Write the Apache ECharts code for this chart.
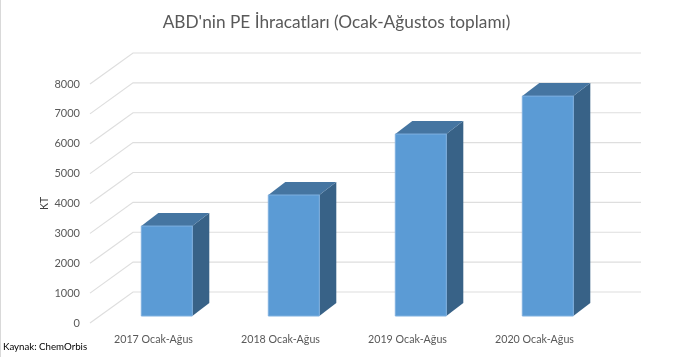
<!DOCTYPE html>
<html>
<head>
<meta charset="utf-8">
<style>
  html, body { margin: 0; padding: 0; background: #fff; }
  #chart { width: 675px; height: 357px; }
</style>
<script src="https://cdn.jsdelivr.net/npm/echarts@6/dist/echarts.min.js"></script>
</head>
<body>
<div id="chart"></div>
<script>
const titleText = "ABD'nin PE İhracatları (Ocak-Ağustos toplamı)";
const sourceText = 'Kaynak: ChemOrbis';
const yName = 'KT';
const categories = ['2017 Ocak-Ağus', '2018 Ocak-Ağus', '2019 Ocak-Ağus', '2020 Ocak-Ağus'];
const exports_kt = [3010, 4050, 6090, 7360];
const yTicks = [0, 1000, 2000, 3000, 4000, 5000, 6000, 7000, 8000];

// fake 3d: how far the back wall and the bars sit from the front plane
const wallDx = 43, wallDy = -31;
const barDx = 13.3, barDy = -7, barDepthX = 17, barDepthY = -13, barWidth = 51;

const chart = echarts.init(document.getElementById('chart'));

const renderWall = (params, api) => {
  const sys = params.coordSys;
  const y = api.coord([0, api.value(1)])[1];
  return {
    type: 'polyline',
    silent: true,
    shape: { points: [[sys.x, y], [sys.x + wallDx, y + wallDy], [sys.x + sys.width + wallDx, y + wallDy]] },
    style: { fill: null, stroke: '#dedede', lineWidth: 1.2 },
  };
};

const renderBar = (params, api) => {
  const top = api.coord([api.value(0), api.value(1)]);
  const base = api.coord([api.value(0), 0]);
  const x0 = top[0] + barDx - barWidth / 2;
  const x1 = x0 + barWidth;
  const y0 = top[1] + barDy;
  const y1 = base[1] + barDy;
  return {
    type: 'group',
    children: [
      {
        type: 'polygon',
        shape: { points: [[x1, y0], [x1 + barDepthX, y0 + barDepthY], [x1 + barDepthX, y1 + barDepthY], [x1, y1]] },
        style: { fill: '#386287' },
      },
      {
        type: 'polygon',
        shape: { points: [[x0, y0], [x0 + barDepthX, y0 + barDepthY], [x1 + barDepthX, y0 + barDepthY], [x1, y0]] },
        style: { fill: '#4575a1' },
      },
      {
        type: 'rect',
        shape: { x: x0, y: y0, width: barWidth, height: y1 - y0 },
        style: { fill: '#5b9bd5', stroke: '#7fb0df', lineWidth: 1 },
      },
    ],
  };
};

chart.setOption({
  animation: false,
  backgroundColor: '#fff',
  title: [
    {
      text: titleText,
      left: 331.5,
      top: 9,
      textAlign: 'center',
      textStyle: { fontFamily: 'Lato', fontSize: 17.25, fontWeight: 'normal', color: '#595959' },
    },
    {
      text: sourceText,
      left: 3,
      top: 342,
      padding: 0,
      textStyle: { fontFamily: 'Lato', fontSize: 9.7, fontWeight: 'normal', color: '#000' },
    },
  ],
  // thin grey edge of the screenshot on the left
  graphic: [
    { type: 'rect', shape: { x: 0, y: 0, width: 1, height: 357 }, style: { fill: '#d9d9d9' }, silent: true },
  ],
  grid: { left: 90, top: 84, width: 508, height: 239 },
  xAxis: {
    type: 'category',
    data: categories,
    axisLine: { show: false },
    axisTick: { show: false },
    axisLabel: { margin: 11, fontFamily: 'Lato', fontSize: 10.7, color: '#595959' },
  },
  yAxis: {
    type: 'value',
    min: 0,
    max: 8000,
    interval: 1000,
    name: yName,
    nameLocation: 'middle',
    nameGap: 40,
    nameMoveOverlap: false,
    nameTextStyle: { fontFamily: 'Lato', fontSize: 10.5, color: '#404040' },
    axisLine: { show: false },
    axisTick: { show: false },
    splitLine: { show: false },
    axisLabel: {
      margin: 10,
      padding: [5, 0, 0, 0],
      fontFamily: 'Lato',
      fontSize: 11,
      color: '#595959',
      formatter: (v) => String(v),
    },
  },
  series: [
    {
      type: 'custom',
      renderItem: renderWall,
      clip: false,
      silent: true,
      z: 1,
      encode: { x: 0, y: 1 },
      data: yTicks.map((v) => [0, v]),
    },
    {
      type: 'custom',
      renderItem: renderBar,
      clip: false,
      z: 2,
      encode: { x: 0, y: 1 },
      data: exports_kt.map((v, i) => [i, v]),
    },
  ],
});
</script>
</body>
</html>
